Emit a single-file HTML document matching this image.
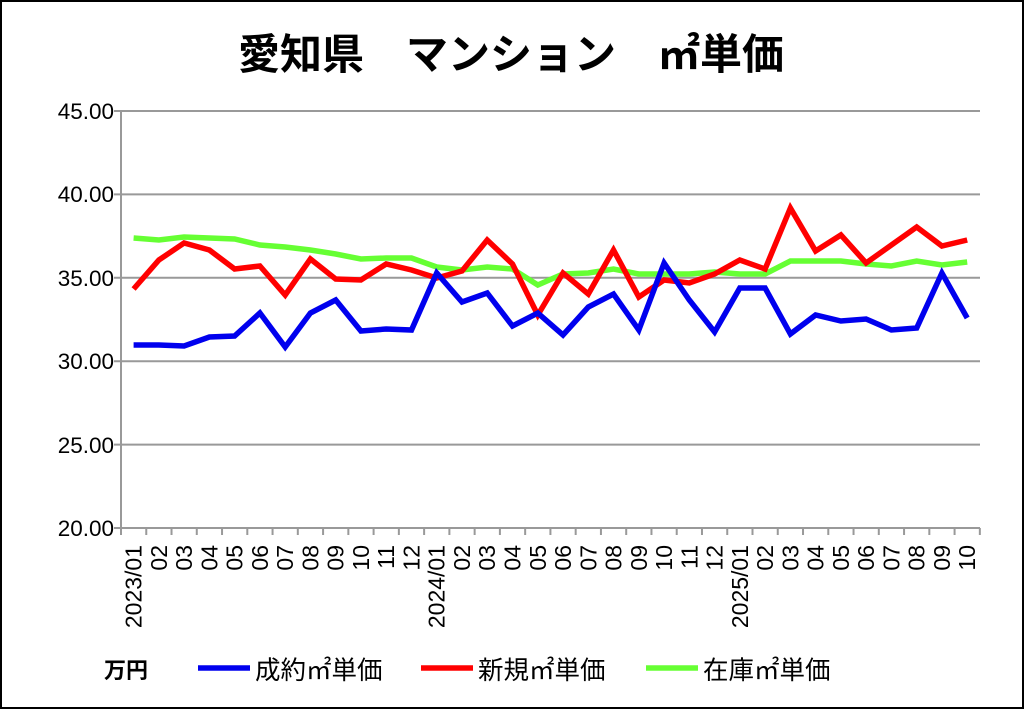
<!DOCTYPE html>
<html><head><meta charset="utf-8"><style>
html,body{margin:0;padding:0;background:#fff}
svg{display:block}
text{font-family:"Liberation Sans","Noto Sans CJK JP",sans-serif}
</style></head><body>
<svg width="1024" height="709" viewBox="0 0 1024 709" xmlns="http://www.w3.org/2000/svg">
<rect x="1" y="1" width="1022" height="707" fill="#fff" stroke="#000" stroke-width="2"/>
<text x="511" y="69" text-anchor="middle" font-size="42" font-weight="bold" style="font-family:'Noto Sans CJK JP',sans-serif">愛知県　マンション　㎡単価</text>
<g stroke="#999" stroke-width="2">
<line x1="114" y1="111" x2="980" y2="111"/>
<line x1="114" y1="194.4" x2="980" y2="194.4"/>
<line x1="114" y1="277.8" x2="980" y2="277.8"/>
<line x1="114" y1="361.2" x2="980" y2="361.2"/>
<line x1="114" y1="444.6" x2="980" y2="444.6"/>
<line x1="114" y1="528" x2="980" y2="528"/>
<line x1="121" y1="111" x2="121" y2="535"/>
</g>
<g id="ticks" stroke="#999" stroke-width="2"></g>
<g font-size="22.5" fill="#000" text-anchor="end">
<text x="114" y="119">45.00</text>
<text x="114" y="202">40.00</text>
<text x="114" y="286">35.00</text>
<text x="114" y="369">30.00</text>
<text x="114" y="453">25.00</text>
<text x="114" y="536">20.00</text>
</g>
<g id="xl" font-size="23" fill="#000" text-anchor="end"></g>
<g fill="none" stroke-width="5.5" stroke-linejoin="miter">
<polyline id="g" stroke="#66ff33"/>
<polyline id="r" stroke="#ff0000"/>
<polyline id="b" stroke="#0000ee"/>
</g>
<text x="104" y="678" font-size="22" font-weight="bold" style="font-family:'Noto Sans CJK JP',sans-serif">万円</text>
<line x1="198" y1="668" x2="250" y2="668" stroke="#0000ee" stroke-width="5.5"/>
<text x="255" y="679" font-size="25.5" style="font-family:'Noto Sans CJK JP',sans-serif">成約㎡単価</text>
<line x1="421" y1="668" x2="473" y2="668" stroke="#ff0000" stroke-width="5.5"/>
<text x="478" y="679" font-size="25.5" style="font-family:'Noto Sans CJK JP',sans-serif">新規㎡単価</text>
<line x1="646" y1="668" x2="698" y2="668" stroke="#66ff33" stroke-width="5.5"/>
<text x="703" y="679" font-size="25.5" style="font-family:'Noto Sans CJK JP',sans-serif">在庫㎡単価</text>
</svg>
<script>
var B=[345,345,346,337,336,313,347,313,300,331,329,330,273,302,293,326,313,335,307,294,330,263,300,332,288,288,334,315,321,319,330,328,273,318];
var R=[289,260,243,250,269,266,295,259,279,280,264,270,278,271,240,264,315,273,294,250,297,280,283,274,260,269,208,251,235,263,245,227,246,240];
var G=[238,240,237,238,239,245,247,250,254,259,258,258,267,270,267,269,285,274,273,269,274,274,274,272,274,274,261,261,261,264,266,261,265,262];
function pts(a){return a.map(function(y,i){return (133.6+25.26*i).toFixed(1)+","+y}).join(" ");}
document.getElementById("b").setAttribute("points",pts(B));
document.getElementById("r").setAttribute("points",pts(R));
document.getElementById("g").setAttribute("points",pts(G));
var ns="http://www.w3.org/2000/svg",t=document.getElementById("ticks"),xl=document.getElementById("xl");
for(var k=0;k<=34;k++){var l=document.createElementNS(ns,"line");var x=121+25.26*k;l.setAttribute("x1",x);l.setAttribute("x2",x);l.setAttribute("y1",528);l.setAttribute("y2",535);t.appendChild(l);}
for(var i=0;i<34;i++){var m=i%12+1;var s=(m<10?"0":"")+m;if(i==0)s="2023/01";if(i==12)s="2024/01";if(i==24)s="2025/01";
var x=133.6+25.26*i+8;var e=document.createElementNS(ns,"text");e.setAttribute("transform","translate("+x+",545) rotate(-90)");e.textContent=s;xl.appendChild(e);}
</script>
</body></html>
